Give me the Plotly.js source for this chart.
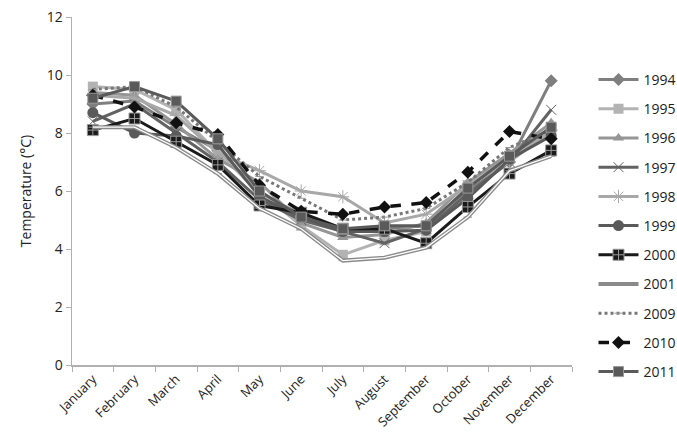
<!DOCTYPE html>
<html>
<head>
<meta charset="utf-8">
<script src="https://cdn.plot.ly/plotly-3.0.1.min.js"></script>
<style>html,body{margin:0;padding:0;background:#fff}#chart{width:677px;height:438px}</style>
</head>
<body>
<div id="chart"></div>
<script>
var months = ["January","February","March","April","May","June","July","August","September","October","November","December"];
var y1994 = [9.0, 9.1, 8.2, 7.4, 5.9, 5.2, 4.6, 4.7, 4.8, 6.0, 7.0, 9.8];
var y1995 = [9.6, 9.5, 8.8, 7.3, 6.0, 4.8, 3.8, 4.3, 4.6, 6.2, 7.2, 8.0];
var y1996 = [9.4, 9.3, 8.3, 7.1, 6.3, 4.9, 4.4, 4.5, 4.9, 6.3, 7.3, 8.35];
var y1997 = [8.4, 9.0, 8.0, 7.0, 5.7, 5.0, 4.6, 4.2, 4.7, 5.9, 7.0, 8.8];
var y1998 = [9.3, 9.2, 8.6, 7.3, 6.7, 6.0, 5.8, 4.9, 5.2, 6.2, 7.0, 8.1];
var y1999 = [8.7, 8.0, 7.9, 7.6, 5.8, 5.1, 4.6, 4.6, 4.65, 5.75, 7.1, 7.9];
var y2000 = [8.1, 8.5, 7.7, 6.9, 5.5, 5.25, 4.7, 4.7, 4.2, 5.45, 6.6, 7.4];
var y2001 = [8.2, 8.2, 7.5, 6.6, 5.4, 4.7, 3.6, 3.7, 4.05, 5.1, 6.7, 7.2];
var y2009 = [9.5, 9.6, 8.9, 7.7, 6.5, 5.75, 5.0, 5.1, 5.4, 6.3, 7.5, 8.1];
var y2010 = [9.3, 8.9, 8.35, 7.95, 6.2, 5.3, 5.2, 5.45, 5.6, 6.65, 8.05, 7.8];
var y2011 = [9.2, 9.6, 9.1, 7.8, 6.0, 5.1, 4.7, 4.8, 4.8, 6.1, 7.2, 8.2];

function tr(name, y, color, width, dash, symbol, msize, mcolor, mline, extra) {
  var t = {
    type: "scatter", mode: "lines+markers", name: name, x: months, y: y,
    legendgroup: name,
    line: {color: color, width: width, dash: dash},
    marker: {symbol: symbol, size: msize, color: mcolor || color,
             line: {color: mline || "rgba(0,0,0,0)", width: mline ? 1 : 0}}
  };
  if (extra) for (var k in extra) t[k] = extra[k];
  return t;
}

var data = [
  tr("1994", y1994, "#7f7f7f", 3, "solid", "diamond", 10),
  tr("1995", y1995, "#b3b3b3", 3, "solid", "square", 10),
  tr("1996", y1996, "#969696", 3, "solid", "triangle-up", 10),
  tr("1997", y1997, "#626262", 3, "solid", "x-thin-open", 10, "#626262", "#626262"),
  tr("1998", y1998, "#a8a8a8", 3, "solid", "asterisk-open", 11, "#a8a8a8", "#a8a8a8"),
  tr("1999", y1999, "#5a5a5a", 3, "solid", "circle", 11),
  tr("2000", y2000, "#1a1a1a", 3, "solid", "square-cross", 11, "#1a1a1a", "#999999"),
  tr("2001", y2001, "#8a8a8a", 4, "solid", "line-ew", 6, "#8a8a8a", "#8a8a8a"),
  tr("2001w", y2001, "#ffffff", 1.3, "solid", "line-ew", 3, "#ffffff", "#ffffff", {showlegend: false, legendgroup: "2001", mode: "lines"}),
  tr("2009", y2009, "#777777", 3, "dot", "line-ew", 6, "#999999", "#999999"),
  tr("2010", y2010, "#111111", 3.5, "dash", "diamond", 10),
  tr("2011", y2011, "#5a5a5a", 3, "solid", "square", 10, "#5a5a5a", "#999999")
];

var layout = {
  width: 677, height: 438,
  margin: {l: 72, r: 105, t: 17, b: 73, autoexpand: false},
  paper_bgcolor: "#fff", plot_bgcolor: "#fff",
  font: {family: "Open Sans, Liberation Sans, sans-serif", color: "#222", size: 13},
  showlegend: true,
  legend: {x: 1.043, xanchor: "left", y: 0.865, yanchor: "top",
           font: {size: 14, color: "#222"}, tracegroupgap: 8, itemwidth: 40},
  xaxis: {type: "category", range: [-0.5, 11.5], tickangle: -45,
          showline: true, linecolor: "#b0b0b0", linewidth: 1.5,
          ticks: "outside", ticklen: 5, tickcolor: "#b0b0b0", tickson: "boundaries",
          showgrid: false, zeroline: false, tickfont: {size: 13}},
  yaxis: {range: [0, 12], dtick: 2, showline: true, linecolor: "#b0b0b0", linewidth: 1.5,
          ticks: "outside", ticklen: 5, tickcolor: "#b0b0b0",
          showgrid: false, zeroline: false, tickfont: {size: 14},
          title: {text: "Temperature (°C)", font: {size: 14}, standoff: 12}}
};

Plotly.newPlot("chart", data, layout, {displayModeBar: false, staticPlot: true});
</script>
</body>
</html>
